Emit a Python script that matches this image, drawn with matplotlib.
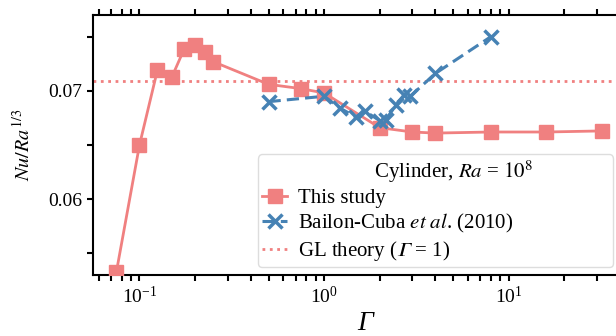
import matplotlib
matplotlib.use("Agg")
import matplotlib.pyplot as plt
import numpy as np

plt.rcParams['font.family'] = ['Liberation Serif', 'DejaVu Serif']
plt.rcParams['mathtext.fontset'] = 'stix'

# This study
gamma_this = [0.075, 0.1, 0.125, 0.15, 0.175, 0.2, 0.225, 0.25, 0.5, 0.75, 1.0, 2.0, 3.0, 4.0, 8.0, 16.0, 32.0]
nu_this = [0.0533, 0.0650, 0.0719, 0.0713, 0.0739, 0.0742, 0.0736, 0.0727, 0.0706, 0.0702, 0.0698,
           0.0666, 0.0662, 0.0661, 0.0662, 0.0662, 0.0663]

# Bailon-Cuba et al. (2010)
gamma_bc = [0.5, 1.0, 1.22, 1.48, 1.67, 2.0, 2.15, 2.45, 2.7, 2.93, 4.0, 8.0]
nu_bc = [0.0690, 0.0695, 0.0684, 0.0676, 0.0681, 0.06725, 0.0673, 0.0687, 0.0696, 0.0695, 0.0716, 0.0750]

# GL theory
gl_value = 0.0709

pink = '#F08080'
blue = '#4682B4'

fig = plt.figure(figsize=(6.16, 3.36), dpi=100)
ax = fig.add_axes([0.1505, 0.1815, 0.885, 0.7739])

ax.plot(gamma_this, nu_this, '-s', color=pink, lw=2.0, ms=10, label='This study', zorder=3)
ax.plot(gamma_bc, nu_bc, '--x', color=blue, lw=2.2, ms=10, mew=2.5, label='Bailon-Cuba $et\\ al$. (2010)',
        dashes=(4, 2), zorder=4)
ax.axhline(gl_value, color=pink, lw=2.0, ls=':', label='GL theory ($\U0001D6E4$ = 1)', zorder=2)

ax.set_xscale('log')
ax.set_xlim(0.0558, 50)
ax.set_ylim(0.053, 0.077)
ax.set_yticks([0.06, 0.07])
ax.set_yticklabels(['0.06', '0.07'])
ax.set_yticks([0.055, 0.065, 0.075], minor=True)

ax.spines['right'].set_visible(False)
for s in ['left', 'top', 'bottom']:
    ax.spines[s].set_linewidth(1.5)

ax.tick_params(axis='both', which='both', direction='out', width=1.5, length=4, labelsize=14)
ax.tick_params(axis='x', which='both', top=True, labeltop=False)
ax.tick_params(axis='y', which='both', right=False)

ax.set_xlabel('Γ', fontsize=20, fontstyle='italic', labelpad=3)
ax.set_ylabel('$Nu/Ra^{1/3}$', fontsize=14.5, labelpad=10)

leg = ax.legend(loc='lower left', title='       Cylinder, $Ra$ = $10^8$', fontsize=15, title_fontsize=15,
                handlelength=1.2, handletextpad=0.5, borderpad=0.2, labelspacing=0.18,
                framealpha=1.0, edgecolor='#dddddd', borderaxespad=0.0,
                bbox_to_anchor=(258 / 616, 1 - 267 / 336, (613 - 258) / 616, 0.3),
                bbox_transform=fig.transFigure, mode='expand')
leg.get_frame().set_linewidth(1.0)

fig.savefig('out.png', dpi=100)
